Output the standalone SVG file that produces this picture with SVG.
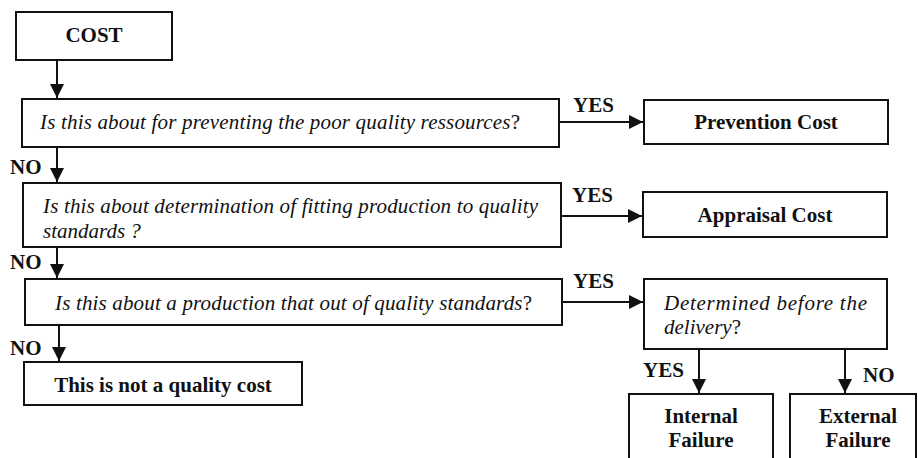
<svg xmlns="http://www.w3.org/2000/svg" width="918" height="458" viewBox="0 0 918 458">
  <style>
    .box { fill: #ffffff; stroke: #111111; stroke-width: 2; }
    .link { fill: none; stroke: #111111; stroke-width: 2; }
    .bold { font-family: "Liberation Serif", "Times New Roman", serif; font-size: 21px; font-weight: bold; fill: #111111; }
    .ital { font-family: "Liberation Serif", "Times New Roman", serif; font-size: 21px; font-style: italic; fill: #111111; }
    .up { font-style: normal; }
  </style>
  <defs>
    <marker id="arrow" viewBox="0 0 14 14" refX="14" refY="7" markerWidth="14" markerHeight="14" markerUnits="userSpaceOnUse" orient="auto">
      <path d="M0,0 L14,7 L0,14 Z" fill="#111111"/>
    </marker>
  </defs>
  <rect width="918" height="458" fill="#ffffff"/>

  <!-- connectors -->
  <g id="connectors">
    <line class="link" x1="57" y1="60" x2="57" y2="98" marker-end="url(#arrow)"/>
    <line class="link" x1="57" y1="147" x2="57" y2="182" marker-end="url(#arrow)"/>
    <line class="link" x1="57" y1="247" x2="57" y2="278" marker-end="url(#arrow)"/>
    <line class="link" x1="59" y1="325" x2="59" y2="361" marker-end="url(#arrow)"/>
    <line class="link" x1="559" y1="122" x2="643" y2="122" marker-end="url(#arrow)"/>
    <line class="link" x1="561" y1="216" x2="642" y2="216" marker-end="url(#arrow)"/>
    <line class="link" x1="562" y1="302" x2="643" y2="302" marker-end="url(#arrow)"/>
    <line class="link" x1="699" y1="349" x2="699" y2="393" marker-end="url(#arrow)"/>
    <line class="link" x1="845" y1="349" x2="845" y2="393" marker-end="url(#arrow)"/>
    <!-- branch labels -->
    <text class="bold" x="573" y="112">YES</text>
    <text class="bold" x="572" y="202">YES</text>
    <text class="bold" x="573" y="288">YES</text>
    <text class="bold" x="10" y="174">NO</text>
    <text class="bold" x="10" y="269">NO</text>
    <text class="bold" x="10" y="355">NO</text>
    <text class="bold" x="643" y="377">YES</text>
    <text class="bold" x="863" y="382">NO</text>
  </g>

  <g id="cost">
    <rect class="box" x="16" y="12" width="156" height="48"/>
    <text class="bold" x="94" y="42" text-anchor="middle">COST</text>
  </g>

  <g id="q-prevention">
    <rect class="box" x="22" y="99" width="537" height="48"/>
    <text class="ital" x="40" y="129" textLength="480" lengthAdjust="spacing">Is this about for preventing the poor quality ressources<tspan class="up">?</tspan></text>
  </g>

  <g id="prevention-cost">
    <rect class="box" x="644" y="100" width="244" height="44"/>
    <text class="bold" x="766" y="129" text-anchor="middle">Prevention Cost</text>
  </g>

  <g id="q-appraisal">
    <rect class="box" x="23" y="183" width="538" height="64"/>
    <text class="ital" x="43" y="213" textLength="495" lengthAdjust="spacing">Is this about determination of fitting production to quality</text>
    <text class="ital" x="43" y="238">standards ?</text>
  </g>

  <g id="appraisal-cost">
    <rect class="box" x="643" y="192" width="244" height="45"/>
    <text class="bold" x="765" y="222" text-anchor="middle">Appraisal Cost</text>
  </g>

  <g id="q-failure">
    <rect class="box" x="25" y="279" width="537" height="46"/>
    <text class="ital" x="55" y="310" textLength="477" lengthAdjust="spacing">Is this about a production that out of quality standards<tspan class="up">?</tspan></text>
  </g>

  <g id="q-delivery">
    <rect class="box" x="644" y="279" width="243" height="70"/>
    <text class="ital" x="664" y="310" textLength="203" lengthAdjust="spacing">Determined before the</text>
    <text class="ital" x="664" y="334">delivery<tspan class="up">?</tspan></text>
  </g>

  <g id="not-quality-cost">
    <rect class="box" x="24" y="362" width="278" height="43"/>
    <text class="bold" x="163" y="392" text-anchor="middle">This is not a quality cost</text>
  </g>

  <g id="internal-failure">
    <rect class="box" x="629" y="394" width="144" height="80"/>
    <text class="bold" x="701" y="423" text-anchor="middle">Internal</text>
    <text class="bold" x="701" y="447" text-anchor="middle">Failure</text>
  </g>

  <g id="external-failure">
    <rect class="box" x="790" y="394" width="126" height="80"/>
    <text class="bold" x="858" y="423" text-anchor="middle">External</text>
    <text class="bold" x="858" y="447" text-anchor="middle">Failure</text>
  </g>
</svg>
